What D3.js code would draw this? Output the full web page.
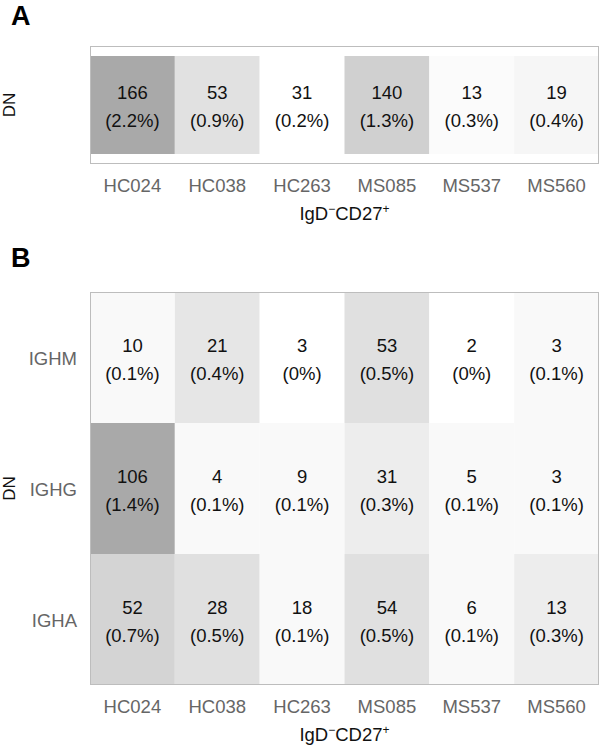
<!DOCTYPE html>
<html>
<head>
<meta charset="utf-8">
<script src="https://cdn.jsdelivr.net/npm/d3@7"></script>
<style>
  body { margin: 0; background: #fff; }
  svg text { font-family: "Liberation Sans", Arial, sans-serif; }
</style>
</head>
<body>
<svg id="chart" width="600" height="747"></svg>
<script>
// samples (columns)
var samples = ["HC024", "HC038", "HC263", "MS085", "MS537", "MS560"];

// panel A: DN vs IgD-CD27+
var countsA = [166, 53, 31, 140, 13, 19];
var pctA = [2.2, 0.9, 0.2, 1.3, 0.3, 0.4];

// panel B: per isotype
var isotypes = ["IGHM", "IGHG", "IGHA"];
var countsB = [
  [10, 21, 3, 53, 2, 3],
  [106, 4, 9, 31, 5, 3],
  [52, 28, 18, 54, 6, 13]
];
var pctB = [
  [0.1, 0.4, 0, 0.5, 0, 0.1],
  [1.4, 0.1, 0.1, 0.3, 0.1, 0.1],
  [0.7, 0.5, 0.1, 0.5, 0.1, 0.3]
];

var svg = d3.select("#chart");
var left = 90, right = 599;
var fs = 18.5;

var x = d3.scaleBand().domain(samples).range([left, right]);

function panel(opts) {
  var g = svg.append("g");
  var y = d3.scaleBand().domain(opts.rows).range([opts.cellTop, opts.cellBottom]);
  var flat = [];
  opts.rows.forEach(function(r, i) {
    samples.forEach(function(s, j) {
      flat.push({row: r, sample: s, n: opts.counts[i][j], p: opts.pct[i][j]});
    });
  });
  var color = d3.scaleLinear()
    .domain(d3.extent(flat, function(d) { return d.p; }))
    .range(["#ffffff", "#a9a9a9"]);

  g.selectAll("rect.cell").data(flat).enter().append("rect")
    .attr("class", "cell")
    .attr("x", function(d) { return x(d.sample); })
    .attr("y", function(d) { return y(d.row); })
    .attr("width", x.bandwidth())
    .attr("height", y.bandwidth())
    .attr("fill", function(d) { return color(d.p); });

  // frame
  g.append("rect")
    .attr("x", left + 0.5).attr("y", opts.top + 0.5)
    .attr("width", right - left - 1).attr("height", opts.bottom - opts.top - 1)
    .attr("fill", "none").attr("stroke", "#bdbdbd").attr("stroke-width", 1);

  var lab = g.selectAll("g.lab").data(flat).enter().append("g")
    .attr("transform", function(d) {
      return "translate(" + (x(d.sample) + x.bandwidth() / 2) + "," + (y(d.row) + y.bandwidth() / 2) + ")";
    });
  lab.append("text").attr("text-anchor", "middle").attr("y", -6)
    .attr("font-size", fs).attr("fill", "#111")
    .text(function(d) { return d.n; });
  lab.append("text").attr("text-anchor", "middle").attr("y", 22)
    .attr("font-size", fs).attr("fill", "#111")
    .text(function(d) { return "(" + d.p + "%)"; });

  // x tick labels
  g.selectAll("text.xt").data(samples).enter().append("text")
    .attr("class", "xt")
    .attr("x", function(d) { return x(d) + x.bandwidth() / 2; })
    .attr("y", opts.bottom + 28)
    .attr("text-anchor", "middle").attr("font-size", fs).attr("fill", "#666")
    .text(function(d) { return d; });

  // y tick labels
  if (opts.showRows) {
    g.selectAll("text.yt").data(opts.rows).enter().append("text")
      .attr("class", "yt")
      .attr("x", 77)
      .attr("y", function(d) { return y(d) + y.bandwidth() / 2 + 7; })
      .attr("text-anchor", "end").attr("font-size", fs).attr("fill", "#666")
      .text(function(d) { return d; });
  }

  // x title
  var t = g.append("text")
    .attr("x", (left + right) / 2).attr("y", opts.bottom + 56)
    .attr("text-anchor", "middle").attr("font-size", fs).attr("fill", "#111");
  t.append("tspan").text("IgD");
  t.append("tspan").attr("baseline-shift", "super").attr("font-size", 12).text("\u2212");
  t.append("tspan").text("CD27");
  t.append("tspan").attr("baseline-shift", "super").attr("font-size", 12).text("+");

  // y title
  g.append("text")
    .attr("transform", "translate(15," + ((opts.top + opts.bottom) / 2) + ") rotate(-90)")
    .attr("text-anchor", "middle").attr("font-size", 17).attr("fill", "#111")
    .text("DN");

  // panel letter
  g.append("text")
    .attr("x", 11).attr("y", opts.letterY)
    .attr("font-size", 27).attr("font-weight", "bold").attr("fill", "#000")
    .text(opts.letter);
}

panel({
  letter: "A", letterY: 25,
  rows: ["DN"], counts: [countsA], pct: [pctA],
  top: 46, bottom: 164, cellTop: 56, cellBottom: 154,
  showRows: false
});

panel({
  letter: "B", letterY: 267,
  rows: isotypes, counts: countsB, pct: pctB,
  top: 292, bottom: 685, cellTop: 292, cellBottom: 685,
  showRows: true
});
</script>
</body>
</html>
